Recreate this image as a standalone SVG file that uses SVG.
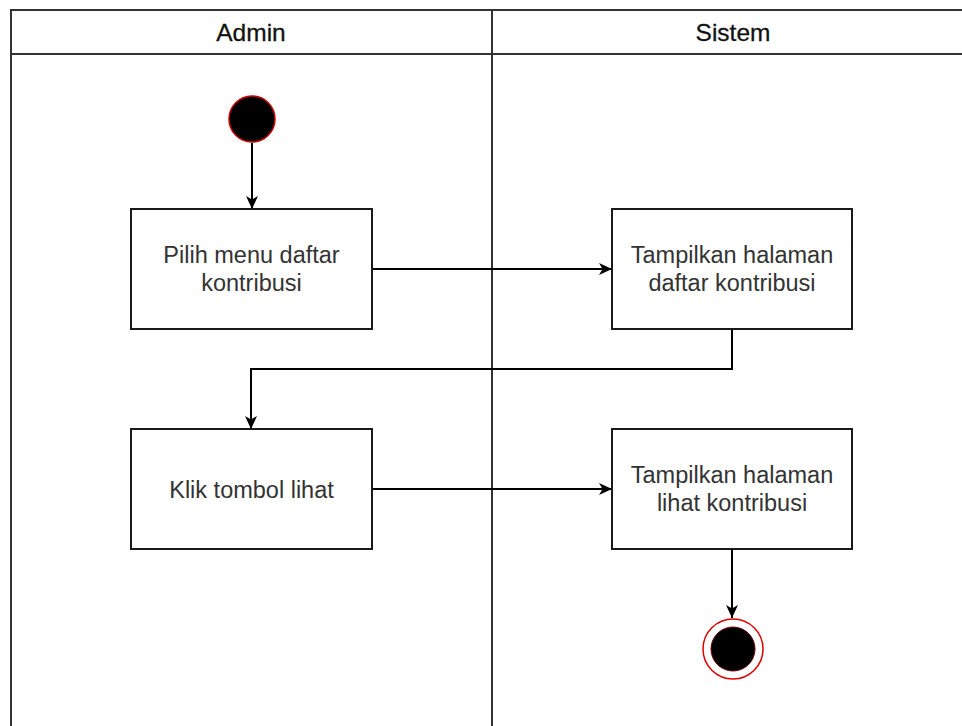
<svg xmlns="http://www.w3.org/2000/svg" width="962" height="726" viewBox="0 0 962 726">
<defs>
<marker id="arr" viewBox="0 0 14 14" refX="13" refY="7" markerWidth="14" markerHeight="14" markerUnits="userSpaceOnUse" orient="auto">
<path d="M0,1 L13,7 L0,13 L3.5,7 z" fill="#000"/>
</marker>
<style>
.lane{fill:none;stroke:#333;stroke-width:2}
.box{fill:#fff;stroke:#1a1a1a;stroke-width:2}
.lbl{font-family:"Liberation Sans",Arial,sans-serif;font-size:23.5px;fill:#333;text-anchor:middle}
.hdr{font-family:"Liberation Sans",Arial,sans-serif;font-size:24.5px;fill:#111;text-anchor:middle;stroke:#111;stroke-width:0.3}
.edge{fill:none;stroke:#000;stroke-width:2;marker-end:url(#arr)}
</style>
</defs>
<rect width="962" height="726" fill="#fff"/>
<g id="pool">
<path class="lane" d="M11,730 L11,10 L970,10 M11,54 L970,54 M492,10 L492,730"/>
<text class="hdr" x="251" y="41">Admin</text>
<text class="hdr" x="733" y="41">Sistem</text>
</g>
<g id="connectors">
<path class="edge" d="M252,143 L252,209"/>
<path class="edge" d="M372,269 L612,269"/>
<path class="edge" d="M732,329 L732,369 L251,369 L251,429"/>
<path class="edge" d="M372,489 L612,489"/>
<path class="edge" d="M732,549 L732,618"/>
</g>
<g id="start">
<circle cx="252" cy="119" r="23" fill="#000" stroke="#cc0000" stroke-width="1.5"/>
</g>
<g id="n1">
<rect class="box" x="131" y="209" width="241" height="120"/>
<text class="lbl" x="251.5" y="263">Pilih menu daftar</text>
<text class="lbl" x="251.5" y="291">kontribusi</text>
</g>
<g id="n2">
<rect class="box" x="612" y="209" width="240" height="120"/>
<text class="lbl" x="732" y="263">Tampilkan halaman</text>
<text class="lbl" x="732" y="291">daftar kontribusi</text>
</g>
<g id="n3">
<rect class="box" x="131" y="429" width="241" height="120"/>
<text class="lbl" x="251.5" y="498">Klik tombol lihat</text>
</g>
<g id="n4">
<rect class="box" x="612" y="429" width="240" height="120"/>
<text class="lbl" x="732" y="483">Tampilkan halaman</text>
<text class="lbl" x="732" y="511">lihat kontribusi</text>
</g>
<g id="end">
<circle cx="733" cy="649" r="30" fill="#fff" stroke="#e00000" stroke-width="1.5"/>
<circle cx="733" cy="649" r="22" fill="#000" stroke="#600" stroke-width="1"/>
</g>
</svg>
